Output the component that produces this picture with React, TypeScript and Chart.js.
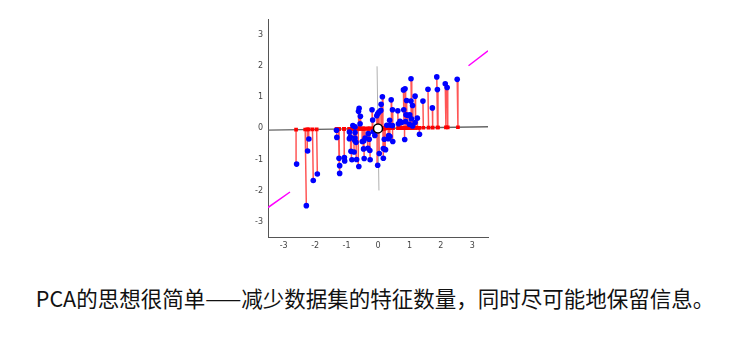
import React, { useEffect, useRef } from "react";
import { Chart, registerables } from "chart.js";
Chart.register(...registerables);

// sample points (blue)
const pointsX = [
  2.52, 2.14, 2.2, 1.87, 1.89, 1.59, 1.73, 1.43, 1.32, 1.05, 0.86, 0.81, 1.18, 0.91, 1.05, 1.1, 0.42, 0.46, 0.63, 0.82,
  0.89, 0.94, 1.01, 1.25, 1.06, 0.37, 0.7, 0.75, 0.88, 1.18, 1.0, 1.1, 0.39, 0.46, 0.65, 0.28,
  0.14, 0.1, 0.03, -0.01, -0.04, 0.09, -0.19, -0.17, -0.6, -0.62, -0.56, -0.57, -0.73, -0.8,
  -1.31, -1.32, -0.91, -0.73, -0.41, -0.45, -0.28, 0.22, 0.34, 0.85, 0.47, -1.24, -1.22, -1.22, -1.07, -1.06,
  -0.88, -0.91, -0.73, -0.74, -0.7, -0.86, -0.76, -0.83, -0.68, -0.61, -0.5, -0.46, -0.44, -0.31, -0.26, -0.25,
  -0.32, -0.15, -0.1, 0.2, 0.17, 0.17, -0.01, 0.04, 0.38, 0.33, 0.24,
  -2.59, -2.2, -2.24, -2.28, -2.06, -1.93,
];
const pointsY = [
  1.58, 1.44, 1.32, 1.66, 1.25, 1.26, 0.66, 0.88, -0.19, 1.6, 1.28, 1.24, 1.04, 0.9, 0.88, 0.74, 0.92, 0.6, 0.57, 0.6,
  0.44, 0.42, 0.44, 0.33, 0.31, 0.26, 0.23, 0.19, 0.22, 0.19, 0.13, 0.08, 0.1, 0.09, 0.15, 0.1,
  1.02, 0.78, 0.53, 0.47, 0.41, 0.58, 0.6, 0.27, 0.65, 0.55, 0.39, 0.15, 0.05, 0.09,
  -0.29, -0.06, -0.12, -0.13, -0.31, -0.4, -0.35, -0.67, -0.23, -0.36, -0.42, -0.96, -1.2, -1.45, -0.94, -1.05,
  -0.28, -0.33, -0.31, -0.39, -0.45, -0.74, -0.76, -1.01, -1.0, -1.23, -0.42, -0.66, -0.97, -0.17, -0.71, -1.01,
  -0.64, -0.11, -0.23, -0.35, -0.65, -0.96, -1.19, -0.81, -0.26, -0.33, -0.69,
  -1.15, -0.34, -0.73, -2.49, -1.68, -1.47,
];

// principal axis (slope) and its drawn extent
const axisSlope = 0.015;
const axisRangeX = [-3.5, 3.5];
// orthogonal (second) axis
const normalX = [-0.03, 0.03];
const normalY = [2, -2];
// magenta segments
const magentaLeftX = [-3.5, -2.8];
const magentaLeftY = [-2.55, -2.05];
const magentaRightX = [2.88, 3.5];
const magentaRightY = [2.02, 2.5];
// mean
const meanX = [0];
const meanY = [0];

const axisMin = -3.5;
const axisMax = 3.5;
const tickValues = [-3, -2, -1, 0, 1, 2, 3];
const caption = "PCA的思想很简单——减少数据集的特征数量，同时尽可能地保留信息。";

function project(x: number, y: number) {
  const t = (x + axisSlope * y) / (1 + axisSlope * axisSlope);
  return { x: t, y: axisSlope * t };
}

export default function App() {
  const ref = useRef<HTMLCanvasElement>(null);
  useEffect(() => {
    if (!ref.current) return;
    const blue = pointsX.map((x, i) => ({ x, y: pointsY[i] }));
    const proj = blue.map((p) => project(p.x, p.y));
    const segs: any[] = [];
    blue.forEach((p, i) => {
      segs.push({ x: p.x, y: p.y }, { x: proj[i].x, y: proj[i].y }, { x: null, y: null });
    });
    const tickFont = { size: 8, family: "DejaVu Sans" };
    const setTicks = (s: any) => {
      s.ticks = tickValues.map((v) => ({ value: v }));
    };
    const chart = new Chart(ref.current, {
      type: "scatter",
      data: {
        datasets: [
          {
            data: meanX.map((x, i) => ({ x, y: meanY[i] })),
            pointRadius: 4.5,
            pointBackgroundColor: "#ffffff",
            pointBorderColor: "#000000",
            pointBorderWidth: 1.5,
          },
          {
            data: [
              ...magentaLeftX.map((x, i) => ({ x, y: magentaLeftY[i] })),
              { x: null, y: null },
              ...magentaRightX.map((x, i) => ({ x, y: magentaRightY[i] })),
            ],
            showLine: true,
            spanGaps: false,
            borderColor: "#ff00ff",
            borderWidth: 1.5,
            pointRadius: 0,
          },
          {
            data: blue,
            pointRadius: 2.8,
            pointBackgroundColor: "#0000ff",
            pointBorderWidth: 0,
          },
          {
            data: proj,
            pointRadius: 2.6,
            pointStyle: "rect",
            pointBackgroundColor: "#ff0000",
            pointBorderWidth: 0,
          },
          {
            data: segs,
            showLine: true,
            spanGaps: false,
            borderColor: "rgba(255,30,30,0.75)",
            borderWidth: 1.5,
            pointRadius: 0,
          },
          {
            data: axisRangeX.map((x) => ({ x, y: axisSlope * x })),
            showLine: true,
            borderColor: "#666666",
            borderWidth: 1.3,
            pointRadius: 0,
          },
          {
            data: normalX.map((x, i) => ({ x, y: normalY[i] })),
            showLine: true,
            borderColor: "#b0b0b0",
            borderWidth: 1,
            pointRadius: 0,
          },
        ],
      },
      options: {
        animation: false,
        responsive: false,
        events: [],
        layout: { padding: { top: 8, right: 12, left: 0, bottom: 0 } },
        plugins: { legend: { display: false }, tooltip: { enabled: false } },
        scales: {
          x: {
            type: "linear",
            min: axisMin,
            max: axisMax,
            grid: { display: false, drawTicks: false },
            border: { display: true, color: "#555", width: 1 },
            ticks: { font: tickFont, color: "#444", padding: 4, maxRotation: 0, autoSkip: false },
            afterBuildTicks: setTicks,
            afterFit: (s: any) => {
              s.height = 13;
            },
          },
          y: {
            type: "linear",
            min: axisMin,
            max: axisMax,
            grid: { display: false, drawTicks: false },
            border: { display: true, color: "#555", width: 1 },
            ticks: { font: tickFont, color: "#444", padding: 5, autoSkip: false },
            afterBuildTicks: setTicks,
            afterFit: (s: any) => {
              s.width = 28;
            },
          },
        },
      },
    });
    return () => chart.destroy();
  }, []);

  return (
    <div style={{ position: "relative", width: 734, height: 338 }}>
      <canvas
        ref={ref}
        width={260}
        height={240}
        style={{ position: "absolute", left: 232, top: 2, width: 260, height: 240 }}
      />
      <div
        style={{
          position: "absolute",
          left: 0,
          top: 275,
          width: 734,
          textAlign: "center",
          fontFamily: "'Noto Sans CJK SC', sans-serif",
          fontSize: 21.5,
          lineHeight: "30px",
          color: "#111",
          whiteSpace: "nowrap",
        }}
      >
        {caption}
      </div>
    </div>
  );
}
